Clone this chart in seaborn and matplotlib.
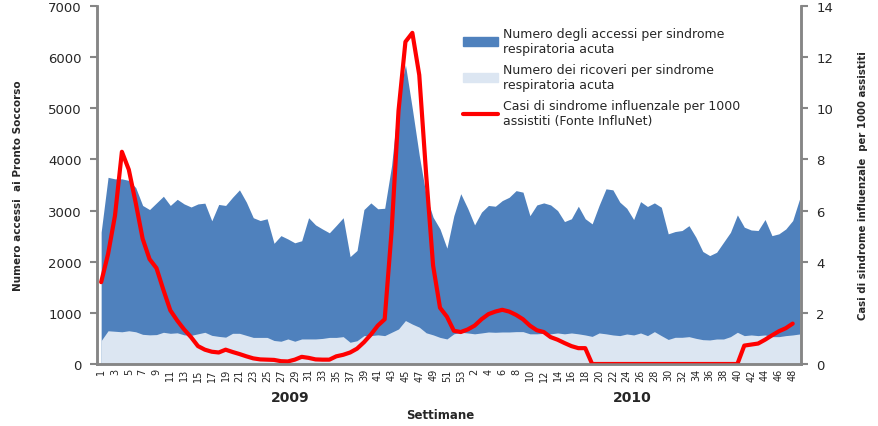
import numpy as np
import pandas as pd
import matplotlib
matplotlib.use("Agg")
import matplotlib.pyplot as plt
from matplotlib.patches import Patch
from matplotlib.lines import Line2D
import seaborn as sns

# weeks (categories)
weeks_2009 = list(range(1, 54))
weeks_2010 = list(range(1, 50))
years = ["2009", "2010"]

# accessi per sindrome respiratoria acuta (left axis)
accessi = [2580, 3650, 3620, 3620, 3590, 3450, 3100, 3020, 3150, 3280,
           3100, 3220, 3130, 3070, 3130, 3145, 2800, 3120, 3100, 3260,
           3405, 3165, 2860, 2805, 2840, 2360, 2510, 2445, 2370, 2410,
           2860, 2720, 2640, 2565, 2710, 2860, 2100, 2220, 3020, 3150,
           3035, 3045, 3880, 5190, 5850, 4990, 4080, 3290, 2870, 2640,
           2265, 2900, 3330,
           3045, 2720, 2970, 3100, 3085, 3195, 3260, 3390, 3360, 2900,
           3110, 3150, 3110, 3000, 2785, 2840, 3085, 2840, 2740, 3100,
           3425, 3405, 3165, 3045, 2825, 3175, 3080, 3150, 3065, 2545,
           2590, 2610, 2705, 2480, 2200, 2120, 2185, 2380, 2575, 2915,
           2675, 2620, 2610, 2825, 2510, 2545, 2640, 2805, 3230]

# ricoveri per sindrome respiratoria acuta (left axis)
ricoveri = [457, 650, 640, 630, 650, 630, 580, 570, 575, 620,
            600, 610, 570, 560, 590, 620, 560, 540, 525, 600,
            600, 560, 520, 520, 520, 460, 445, 490, 445, 490,
            490, 490, 500, 520, 520, 535, 425, 455, 555, 555,
            570, 555, 620, 685, 850, 780, 720, 610, 570, 520,
            490, 590, 620,
            607, 590, 607, 626, 620, 626, 626, 633, 633, 590,
            590, 600, 590, 607, 590, 607, 590, 568, 540, 607,
            590, 568, 555, 587, 568, 607, 555, 633, 555, 480,
            522, 522, 535, 502, 476, 470, 489, 489, 535, 620,
            555, 568, 555, 568, 535, 535, 555, 568, 587]

# casi ILI per 1000 assistiti (right axis), up to week 48 of 2010
ili = [3.2, 4.3, 5.8, 8.3, 7.6, 6.3, 4.9, 4.1, 3.75, 2.9,
       2.1, 1.7, 1.35, 1.05, 0.7, 0.56, 0.48, 0.45, 0.56, 0.47,
       0.39, 0.3, 0.22, 0.18, 0.17, 0.16, 0.11, 0.1, 0.17, 0.28,
       0.24, 0.18, 0.17, 0.17, 0.3, 0.36, 0.45, 0.6, 0.85, 1.15,
       1.5, 1.75, 5.2, 9.9, 12.6, 12.95, 11.3, 7.4, 3.85, 2.2,
       1.85, 1.3, 1.25,
       1.35, 1.5, 1.75, 1.95, 2.05, 2.12, 2.05, 1.92, 1.75, 1.5,
       1.32, 1.25, 1.05, 0.95, 0.82, 0.7, 0.62, 0.62, 0.0, 0.0,
       0.0, 0.0, 0.0, 0.0, 0.0, 0.0, 0.0, 0.0, 0.0, 0.0,
       0.0, 0.0, 0.0, 0.0, 0.0, 0.0, 0.0, 0.0, 0.0, 0.0,
       0.72, 0.76, 0.8, 0.95, 1.12, 1.28, 1.4, 1.58]

weeks = weeks_2009 + weeks_2010
df = pd.DataFrame({"pos": np.arange(len(weeks)), "week": weeks,
                   "accessi": accessi, "ricoveri": ricoveri})
df_ili = pd.DataFrame({"pos": np.arange(len(ili)), "ili": ili})

sns.set_style("white")
plt.rcParams['font.family'] = ['DejaVu Sans']

dark = "#4F81BD"
light = "#DCE6F2"
red = "#FF0000"
grey = "#868686"

fig = plt.figure(figsize=(8.79, 4.27), dpi=100)
ax = fig.add_axes([97/879, 1-365/427, (801-97)/879, (365-7)/427])

ax.fill_between(df["pos"], 0, df["accessi"], color=dark, lw=0)
ax.fill_between(df["pos"], 0, df["ricoveri"], color=light, lw=0)
ax.set_ylim(0, 7000)
ax.set_yticks(range(0, 7001, 1000))
ax.set_xlim(-0.6, 101.2)

ticks = df["pos"][::2]
ax.set_xticks(ticks)
ax.set_xticklabels([str(w) for w in df["week"][::2]], rotation=90, fontsize=7)
ax.set_xticks([-0.6, 52.5, 101.2], minor=True)
ax.tick_params(axis="x", which="major", length=0, pad=3)
ax.tick_params(axis="x", which="minor", length=5, width=1.5, color=grey)
ax.tick_params(axis="y", length=5, width=1.5, color=grey, labelsize=9.5, pad=6)

ax2 = ax.twinx()
sns.lineplot(data=df_ili, x="pos", y="ili", ax=ax2, color=red, lw=3,
             solid_joinstyle="round", solid_capstyle="round")
ax2.set_ylim(0, 14)
ax2.set_yticks(range(0, 15, 2))
ax2.set_xlim(-0.6, 101.2)
ax2.tick_params(axis="y", length=5, width=1.5, color=grey, labelsize=9.5, pad=6)
ax2.set_xlabel("")

for a in (ax, ax2):
    a.spines["top"].set_visible(False)
    for s in ["left", "right", "bottom"]:
        a.spines[s].set_color(grey)
        a.spines[s].set_linewidth(1.8)

ax.set_ylabel("Numero accessi  ai Pronto Soccorso", fontsize=7.5, fontweight="bold",
              labelpad=18)
ax2.set_ylabel("Casi di sindrome influenzale  per 1000 assistiti", fontsize=7.3,
               fontweight="bold", labelpad=18)

fig.text(290/879, 1-398/427, years[0], ha="center", va="center", fontsize=10, fontweight="bold")
fig.text(632/879, 1-398/427, years[1], ha="center", va="center", fontsize=10, fontweight="bold")
fig.text(440/879, 1-416/427, "Settimane", ha="center", va="center", fontsize=8.5, fontweight="bold")

handles = [Patch(color=dark), Patch(color=light), Line2D([], [], color=red, lw=3)]
labels = ["Numero degli accessi per sindrome\nrespiratoria acuta",
          "Numero dei ricoveri per sindrome\nrespiratoria acuta",
          "Casi di sindrome influenzale per 1000\nassistiti (Fonte InfluNet)"]
ax2.legend(handles, labels, loc="upper left", bbox_to_anchor=(463/879, 1-28/427),
           bbox_transform=fig.transFigure, frameon=False, fontsize=9,
           handlelength=2.8, handletextpad=0.4, labelspacing=0.65, borderaxespad=0,
           borderpad=0)

fig.savefig("out.png", dpi=100)
